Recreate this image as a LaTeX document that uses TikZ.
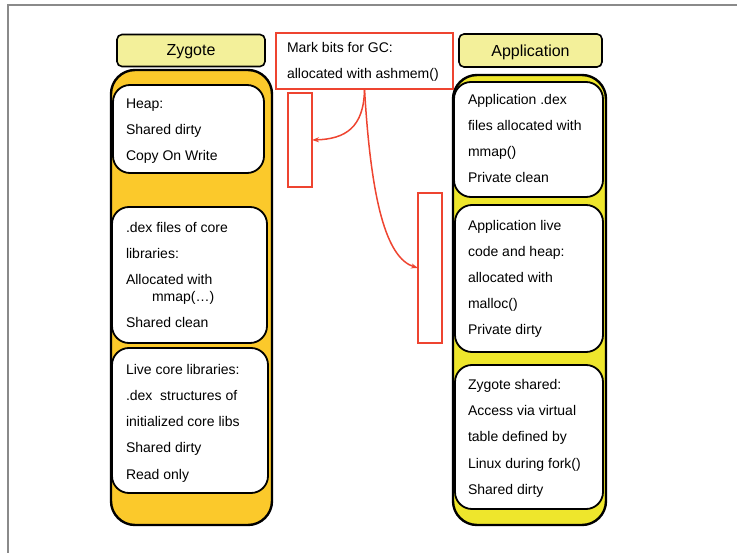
\documentclass[tikz,border=0pt]{standalone}
\usepackage{fontspec}
\setmainfont{Liberation Sans}
\usetikzlibrary{arrows.meta}
\definecolor{zygfill}{HTML}{FBC92B}
\definecolor{appfill}{HTML}{EEE62C}
\definecolor{lblfill}{HTML}{F3F09A}
\definecolor{redline}{HTML}{EE4430}
\definecolor{framegray}{HTML}{8A8A8A}
\begin{document}
\begin{tikzpicture}[x=1pt,y=-1pt,
  every node/.style={inner sep=0pt,outer sep=0pt},
  lbl/.style={draw=black,line width=1.6pt,fill=lblfill,rounded corners=5pt},
  outerbox/.style={draw=black,line width=2.4pt,rounded corners=24pt},
  innerbox/.style={draw=black,line width=1.8pt,fill=white,rounded corners=17pt},
  redbox/.style={draw=redline,line width=1.5pt},
  txt/.style={anchor=base west,font=\fontsize{14}{16}\selectfont},
  ttl/.style={anchor=base,font=\fontsize{16}{18}\selectfont},
  redarrow/.style={draw=redline,line width=1.5pt,-{Stealth[length=7pt,width=5pt]}}]
\useasboundingbox (0,0) rectangle (737,553);
% frame lines
\draw[framegray,line width=1.5pt] (8,553) -- (8,5) -- (737,5);

% Zygote column
\node[lbl,minimum width=148pt,minimum height=32pt] (zlbl) at (191,50.5) {};
\node[ttl] (zlbltxt) at (191,56) {Zygote};
\node[outerbox,fill=zygfill,minimum width=161pt,minimum height=455pt] (zout) at (191.5,297.5) {};
\node[innerbox,minimum width=151pt,minimum height=88pt] (zheap) at (188.5,129) {};
\node[innerbox,minimum width=155pt,minimum height=136pt] (zdex) at (189.5,275) {};
\node[innerbox,minimum width=156pt,minimum height=145pt] (zlive) at (190,420.5) {};

\node[txt] (h1) at (126,109) {Heap:};
\node[txt] (h2) at (126,135) {Shared dirty};
\node[txt] (h3) at (126,161) {Copy On Write};

\node[txt] (d1) at (126,233) {.dex files of core};
\node[txt] (d2) at (126,259) {libraries:};
\node[txt] (d3) at (126,285) {Allocated with};
\node[txt] (d4) at (152,302) {mmap(…)};
\node[txt] (d5) at (126,328) {Shared clean};

\node[txt] (l1) at (126,375) {Live core libraries:};
\node[txt] (l2) at (126,401) {.dex\ \ structures of};
\node[txt] (l3) at (126,427) {initialized core libs};
\node[txt] (l4) at (126,453) {Shared dirty};
\node[txt] (l5) at (126,479) {Read only};

% Application column
\node[lbl,minimum width=143pt,minimum height=33pt] (albl) at (530.5,50.5) {};
\node[ttl] (albltxt) at (530.5,57) {Application};
\node[outerbox,fill=appfill,minimum width=153pt,minimum height=450pt] (aout) at (529.5,300) {};
\node[innerbox,minimum width=149pt,minimum height=115pt] (a1) at (528.5,139.5) {};
\node[innerbox,minimum width=148pt,minimum height=147pt] (a2) at (529,278.5) {};
\node[innerbox,minimum width=148pt,minimum height=144pt] (a3) at (529,437) {};

\node[txt] (p1) at (468,105) {Application .dex};
\node[txt] (p2) at (468,131) {files allocated with};
\node[txt] (p3) at (468,157) {mmap()};
\node[txt] (p4) at (468,183) {Private clean};

\node[txt] (q1) at (468,231) {Application live};
\node[txt] (q2) at (468,257) {code and heap:};
\node[txt] (q3) at (468,283) {allocated with};
\node[txt] (q4) at (468,309) {malloc()};
\node[txt] (q5) at (468,335) {Private dirty};

\node[txt] (s1) at (468,390) {Zygote shared:};
\node[txt] (s2) at (468,416) {Access via virtual};
\node[txt] (s3) at (468,442) {table defined by};
\node[txt] (s4) at (468,468) {Linux during fork()};
\node[txt] (s5) at (468,494) {Shared dirty};

% Mark bits
\node[redbox,minimum width=177pt,minimum height=56pt] (mark) at (364.5,61) {};
\node[txt] (m1) at (287,53) {Mark bits for GC:};
\node[txt] (m2) at (287,79) {allocated with ashmem()};
\node[redbox,minimum width=24pt,minimum height=94pt] (r1) at (300,140) {};
\node[redbox,minimum width=24pt,minimum height=150pt] (r2) at (430,268) {};

\draw[redarrow] (mark.south) .. controls (364,128) and (345,139) .. (r1.east);
\draw[redarrow] (mark.south) .. controls (371,200) and (386,258) .. (r2.west);
\end{tikzpicture}
\end{document}
